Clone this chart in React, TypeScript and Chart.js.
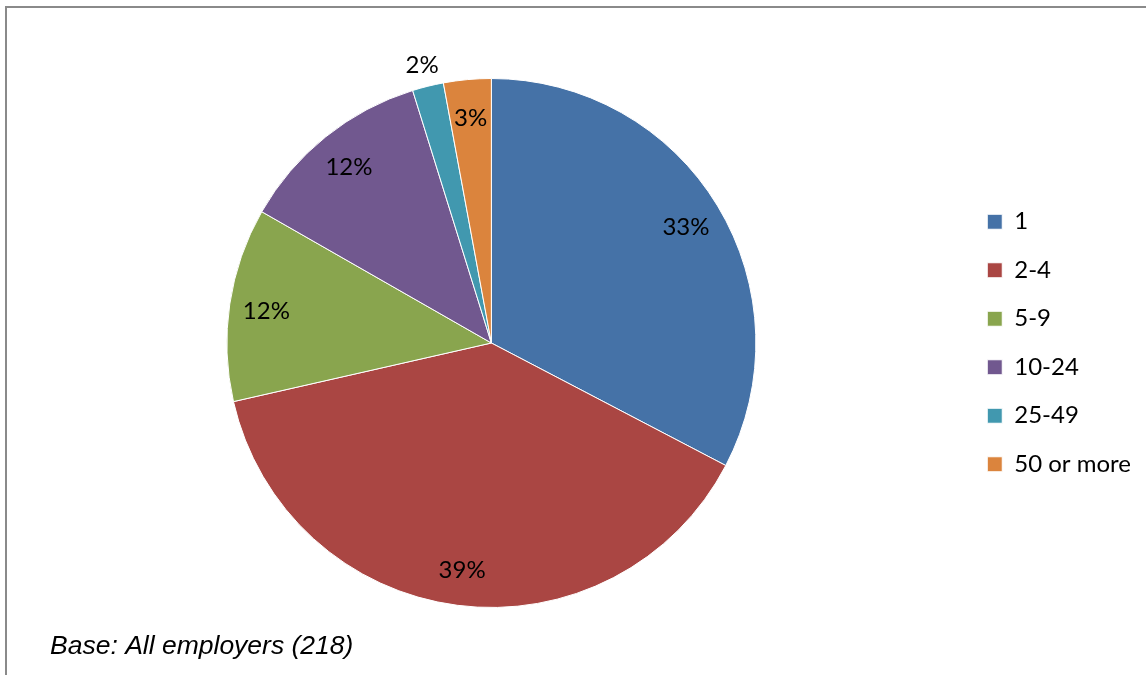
import React, { useEffect, useRef } from "react";
import { Chart, registerables } from "chart.js";

Chart.register(...registerables);

const categories = ["1", "2-4", "5-9", "10-24", "25-49", "50 or more"];
const shares = [32.6, 38.7, 11.8, 11.9, 1.9, 2.9];
const colors = ["#4572A7", "#AA4643", "#89A54E", "#71588F", "#4198AF", "#DB843D"];
const baseNote = "Base: All employers (218)";

const legendShift = {
  id: "legendShift",
  afterLayout(chart: any) {
    const lg = chart.legend;
    if (lg) {
      lg.left -= 5;
      lg.right -= 5;
    }
  },
};

const labelPlugin = {
  id: "sliceLabels",
  afterDatasetsDraw(chart: any) {
    const ctx = chart.ctx;
    const meta = chart.getDatasetMeta(0);
    const data = chart.data.datasets[0].data as number[];
    const total = data.reduce((a, b) => a + b, 0);
    ctx.save();
    ctx.font = "24px Lato";
    ctx.fillStyle = "#000";
    ctx.textAlign = "center";
    ctx.textBaseline = "middle";
    meta.data.forEach((arc: any, i: number) => {
      const p = arc.getProps(["x", "y", "startAngle", "endAngle", "outerRadius"], true);
      const mid = (p.startAngle + p.endAngle) / 2;
      const frac = data[i] / total;
      const rr = frac < 0.025 ? p.outerRadius * 1.09 : p.outerRadius * 0.86;
      const x = p.x + Math.cos(mid) * rr;
      const y = p.y + Math.sin(mid) * rr + 2;
      ctx.fillText(Math.round(data[i]) + "%", x, y);
    });
    ctx.font = "italic 26.5px 'Liberation Sans', Arial, sans-serif";
    ctx.textAlign = "left";
    ctx.textBaseline = "alphabetic";
    ctx.fillText(baseNote, 50, 654);
    ctx.restore();
  },
};

export default function App() {
  const ref = useRef<HTMLCanvasElement | null>(null);
  useEffect(() => {
    if (!ref.current) return;
    const chart = new Chart(ref.current, {
      type: "pie",
      data: {
        labels: categories,
        datasets: [
          {
            data: shares,
            backgroundColor: colors,
            borderColor: "#ffffff",
            borderWidth: 1,
          },
        ],
      },
      options: {
        responsive: false,
        animation: false,
        layout: { padding: { left: 15, right: 0, top: 78, bottom: 67 } },
        plugins: {
          tooltip: { enabled: false },
          legend: {
            position: "right",
            maxWidth: 181.5,
            labels: {
              boxWidth: 15,
              boxHeight: 15,
              padding: 24.5,
              color: "#000",
              font: { family: "Lato", size: 24 },
            },
          },
        },
      },
      plugins: [legendShift, labelPlugin],
    });
    return () => chart.destroy();
  }, []);
  return (
    <div style={{ position: "fixed", left: 0, top: 0, width: 1146, height: 675, background: "#fff", overflow: "hidden" }}>
      <div
        style={{
          position: "absolute",
          left: 5,
          top: 6,
          width: 1300,
          height: 800,
          borderLeft: "2px solid #8a8a8a",
          borderTop: "2px solid #8a8a8a",
        }}
      />
      <canvas ref={ref} width={1146} height={675} style={{ position: "absolute", left: 0, top: 0 }} />
    </div>
  );
}
